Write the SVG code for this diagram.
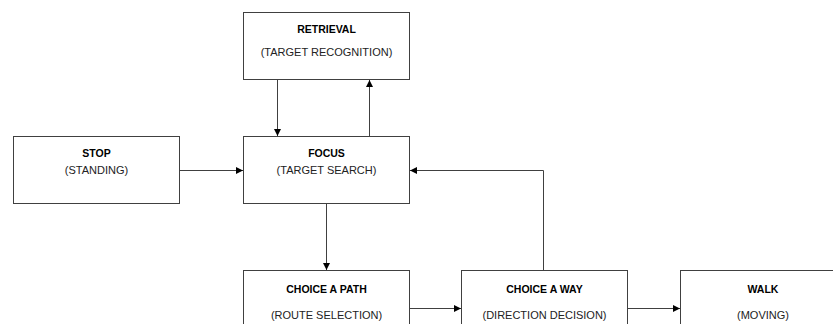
<svg xmlns="http://www.w3.org/2000/svg" width="833" height="324" viewBox="0 0 833 324">
<style>
.box{fill:#fff;stroke:#404040;stroke-width:1}
.t{font-family:"Liberation Sans",Arial,sans-serif;font-size:10.5px;font-weight:bold;fill:#000;text-anchor:middle}
.s{font-family:"Liberation Sans",Arial,sans-serif;font-size:11px;fill:#222;text-anchor:middle}
.c{stroke:#404040;stroke-width:1;fill:none;marker-end:url(#a)}
</style>
<defs>
<marker id="a" viewBox="0 0 10 10" refX="10" refY="5" markerWidth="7" markerHeight="7" markerUnits="userSpaceOnUse" orient="auto">
<path d="M0,0 L10,5 L0,10 z" fill="#000"/>
</marker>
</defs>
<rect width="833" height="324" fill="#fff"/>
<g id="retrieval"><rect class="box" x="243.5" y="12.5" width="166" height="67"/><text class="t" x="326.5" y="33">RETRIEVAL</text><text class="s" x="326.5" y="56">(TARGET RECOGNITION)</text></g>
<g id="stop"><rect class="box" x="13.5" y="136.5" width="166" height="67"/><text class="t" x="96.5" y="157">STOP</text><text class="s" x="96.5" y="174">(STANDING)</text></g>
<g id="focus"><rect class="box" x="243.5" y="136.5" width="166" height="67"/><text class="t" x="326.5" y="157">FOCUS</text><text class="s" x="326.5" y="174">(TARGET SEARCH)</text></g>
<g id="choicepath"><rect class="box" x="243.5" y="270.5" width="166" height="67"/><text class="t" x="326.5" y="293">CHOICE A PATH</text><text class="s" x="326.5" y="319">(ROUTE SELECTION)</text></g>
<g id="choiceway"><rect class="box" x="461.5" y="270.5" width="166" height="67"/><text class="t" x="544.5" y="293">CHOICE A WAY</text><text class="s" x="544.5" y="319">(DIRECTION DECISION)</text></g>
<g id="walk"><rect class="box" x="680.5" y="270.5" width="166" height="67"/><text class="t" x="763" y="293">WALK</text><text class="s" x="763" y="319">(MOVING)</text></g>
<g id="connectors">
<path class="c" d="M277.5,79.5 V136"/>
<path class="c" d="M369.5,136.5 V80"/>
<path class="c" d="M179.5,170.5 H243"/>
<path class="c" d="M543.5,270.5 V170.5 H410"/>
<path class="c" d="M326.5,203.5 V270"/>
<path class="c" d="M409.5,308.5 H461"/>
<path class="c" d="M627.5,308.5 H680"/>
</g>
</svg>
